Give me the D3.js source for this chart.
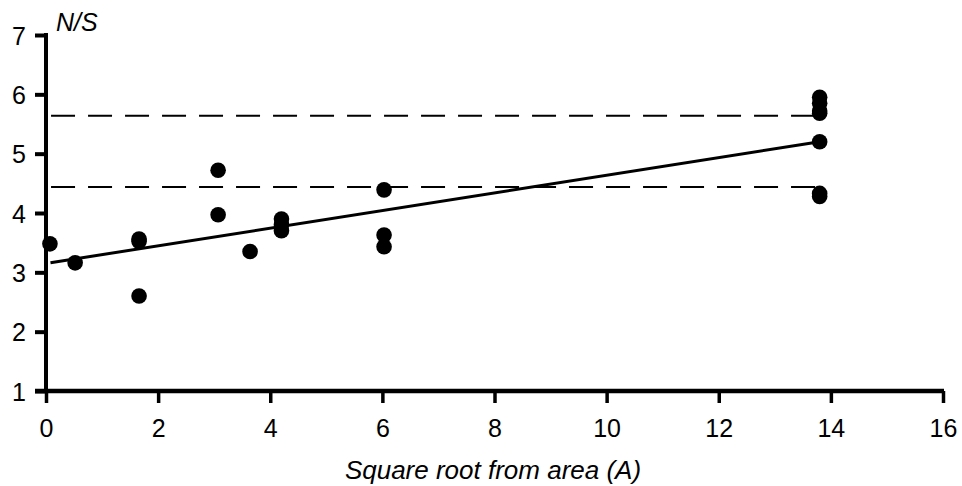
<!DOCTYPE html>
<html><head><meta charset="utf-8">
<script src="https://cdn.jsdelivr.net/npm/d3@7"></script>
<style>
html,body{margin:0;padding:0;background:#fff;}
svg text{font-family:"Liberation Sans",Arial,sans-serif;fill:#000;}
</style></head>
<body><svg id="c" width="962" height="486"></svg>
<script>
// Data
const xs = [0.07, 0.52, 1.66, 1.66, 1.66, 3.07, 3.07, 3.64, 4.2, 4.2, 4.2, 6.03, 6.03, 6.03, 13.8, 13.8, 13.8, 13.8, 13.8, 13.8, 13.8];
const ys = [3.48, 3.16, 3.52, 3.56, 2.60, 4.72, 3.97, 3.35, 3.90, 3.80, 3.70, 4.39, 3.63, 3.43, 5.95, 5.85, 5.72, 5.68, 5.20, 4.33, 4.28];
const fitRange = [0.08, 13.8];
const fitIntercept = 3.15;
const fitSlope = 0.1486;
const bandLevels = [4.44, 5.64];
const bandRange = [0.09, 13.8];
const xTicks = [0, 2, 4, 6, 8, 10, 12, 14, 16];
const yTicks = [1, 2, 3, 4, 5, 6, 7];
const xTitle = "Square root from area (A)";
const yTitle = "N/S";

const svg = d3.select("#c");
const x = d3.scaleLinear().domain([0, 16]).range([46, 943]);
const y = d3.scaleLinear().domain([1, 7]).range([391, 35]);
const FS = 25;

// axes
const gx = svg.append("g").attr("transform", `translate(0,${y(1)})`)
  .call(d3.axisBottom(x).tickValues(xTicks).tickSize(12).tickSizeOuter(0).tickPadding(16).tickFormat(d3.format("d")));
gx.select(".domain").remove();
gx.selectAll(".tick line").attr("stroke", "#000").attr("stroke-width", 3.5);
gx.selectAll(".tick text").attr("font-size", FS).attr("dy", "0.71em");

const gy = svg.append("g").attr("transform", `translate(${x(0)},0)`)
  .call(d3.axisLeft(y).tickValues(yTicks).tickSize(11).tickSizeOuter(0).tickPadding(9).tickFormat(d3.format("d")));
gy.select(".domain").remove();
gy.selectAll(".tick line").attr("stroke", "#000").attr("stroke-width", 4);
gy.selectAll(".tick text").attr("font-size", FS).attr("dy", "0.36em");

// axis lines
svg.append("line").attr("x1", x(0)).attr("x2", x(0)).attr("y1", y(7) - 2).attr("y2", y(1))
  .attr("stroke", "#000").attr("stroke-width", 4);
svg.append("line").attr("x1", x(0) - 11).attr("x2", x(16) + 1).attr("y1", y(1)).attr("y2", y(1))
  .attr("stroke", "#000").attr("stroke-width", 4.5);

// dashed band lines
svg.selectAll("line.band").data(bandLevels).enter().append("line").attr("class", "band")
  .attr("x1", x(bandRange[0])).attr("x2", x(bandRange[1]))
  .attr("y1", d => y(d)).attr("y2", d => y(d))
  .attr("stroke", "#000").attr("stroke-width", 2).attr("stroke-dasharray", "24,13");

// regression line
svg.append("line")
  .attr("x1", x(fitRange[0])).attr("y1", y(fitIntercept + fitSlope * fitRange[0]))
  .attr("x2", x(fitRange[1])).attr("y2", y(fitIntercept + fitSlope * fitRange[1]))
  .attr("stroke", "#000").attr("stroke-width", 3);

// points
svg.selectAll("circle").data(xs.map((v, i) => [v, ys[i]])).enter().append("circle")
  .attr("cx", d => x(d[0])).attr("cy", d => y(d[1])).attr("r", 7.8).attr("fill", "#000");

// titles
svg.append("text").attr("x", 493).attr("y", 479).attr("text-anchor", "middle")
  .attr("font-size", 26).attr("font-style", "italic").text(xTitle);
svg.append("text").attr("x", 56).attr("y", 31)
  .attr("font-size", FS).attr("font-style", "italic").text(yTitle);
</script></body></html>
